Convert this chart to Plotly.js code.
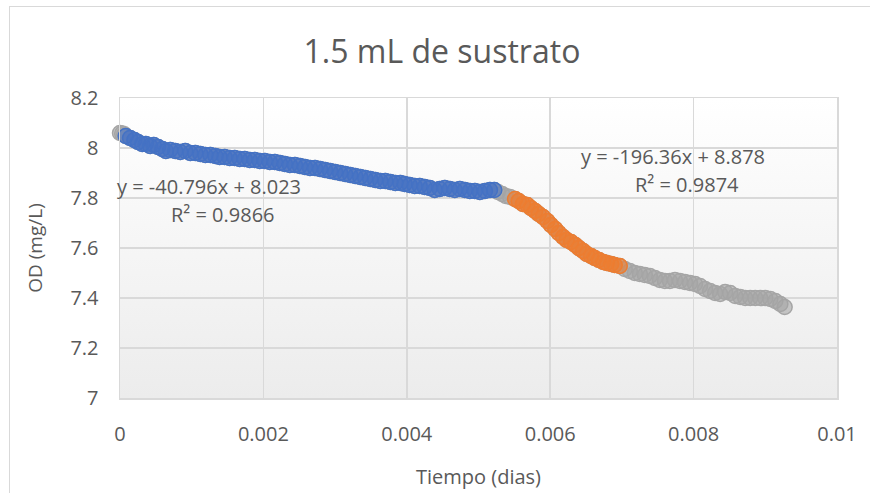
<!DOCTYPE html>
<html>
<head>
<meta charset="utf-8">
<script src="https://cdn.plot.ly/plotly-3.0.1.min.js"></script>
<style>
  html, body { margin: 0; padding: 0; overflow: hidden; background: #ffffff; }
  #chart { position: absolute; left: 0; top: 0; width: 870px; height: 493px; }
  #frame { position: absolute; left: 9px; top: 6px; width: 900px; height: 520px;
           border: 1px solid #d9d9d9; pointer-events: none; box-sizing: border-box; }
</style>
</head>
<body>
<div id="chart"></div>
<div id="frame"></div>
<script>
// ---- Data (tiempo en días, OD en mg/L) ----
const startX = [0.00000, 0.00003, 0.00006];
const startY = [8.060, 8.058, 8.055];

const blueX = [0.00008, 0.00014, 0.00020, 0.00025, 0.00031, 0.00036, 0.00042, 0.00047, 0.00053, 0.00059,
  0.00064, 0.00070, 0.00077, 0.00084, 0.00091, 0.00098, 0.00105, 0.00112, 0.00119, 0.00126,
  0.00133, 0.00139, 0.00146, 0.00153, 0.00160, 0.00167, 0.00174, 0.00181, 0.00188, 0.00195,
  0.00202, 0.00209, 0.00216, 0.00223, 0.00230, 0.00237, 0.00244, 0.00251, 0.00258, 0.00265,
  0.00272, 0.00279, 0.00286, 0.00293, 0.00300, 0.00307, 0.00314, 0.00321, 0.00328, 0.00335,
  0.00342, 0.00349, 0.00356, 0.00363, 0.00370, 0.00377, 0.00384, 0.00391, 0.00397, 0.00404,
  0.00411, 0.00418, 0.00425, 0.00432, 0.00439, 0.00446, 0.00453, 0.00460, 0.00467, 0.00474,
  0.00481, 0.00488, 0.00495, 0.00502, 0.00509, 0.00516, 0.00522];
const blueY = [8.048, 8.040, 8.032, 8.024, 8.016, 8.016, 8.008, 8.012, 8.004, 7.996,
  7.988, 7.992, 7.988, 7.984, 7.988, 7.980, 7.980, 7.976, 7.972, 7.972,
  7.968, 7.964, 7.964, 7.960, 7.960, 7.956, 7.956, 7.952, 7.952, 7.948,
  7.948, 7.944, 7.944, 7.940, 7.936, 7.932, 7.932, 7.928, 7.924, 7.920,
  7.920, 7.916, 7.912, 7.908, 7.904, 7.900, 7.896, 7.892, 7.888, 7.884,
  7.880, 7.876, 7.872, 7.868, 7.868, 7.864, 7.860, 7.860, 7.856, 7.852,
  7.848, 7.848, 7.844, 7.840, 7.832, 7.836, 7.840, 7.836, 7.832, 7.836,
  7.832, 7.828, 7.828, 7.824, 7.828, 7.832, 7.832];

const midX = [0.00527, 0.00533, 0.00538, 0.00544];
const midY = [7.824, 7.816, 7.808, 7.804];

const orangeX = [0.00551, 0.00556, 0.00562, 0.00568, 0.00573, 0.00579, 0.00584, 0.00590, 0.00596, 0.00601,
  0.00607, 0.00612, 0.00618, 0.00623, 0.00629, 0.00635, 0.00640, 0.00646, 0.00651, 0.00657,
  0.00662, 0.00668, 0.00674, 0.00679, 0.00685, 0.00690, 0.00697];
const orangeY = [7.796, 7.788, 7.776, 7.772, 7.760, 7.748, 7.736, 7.724, 7.708, 7.692,
  7.676, 7.660, 7.644, 7.632, 7.624, 7.612, 7.600, 7.588, 7.576, 7.568,
  7.560, 7.552, 7.544, 7.540, 7.536, 7.532, 7.528];

const endX = [0.00704, 0.00711, 0.00718, 0.00725, 0.00732, 0.00739, 0.00746, 0.00753, 0.00760, 0.00767,
  0.00774, 0.00781, 0.00788, 0.00795, 0.00802, 0.00809, 0.00816, 0.00823, 0.00830, 0.00837,
  0.00844, 0.00851, 0.00858, 0.00865, 0.00872, 0.00879, 0.00886, 0.00893, 0.00900, 0.00907,
  0.00914, 0.00921, 0.00927];
const endY = [7.516, 7.508, 7.500, 7.496, 7.492, 7.488, 7.480, 7.472, 7.468, 7.468,
  7.472, 7.468, 7.464, 7.460, 7.456, 7.448, 7.436, 7.428, 7.420, 7.416,
  7.424, 7.420, 7.408, 7.404, 7.400, 7.400, 7.400, 7.400, 7.400, 7.396,
  7.388, 7.376, 7.364];

const xTickVals = [0, 0.002, 0.004, 0.006, 0.008, 0.01];
const xTickText = ["0", "0.002", "0.004", "0.006", "0.008", "0.01"];
const yTickVals = [7, 7.2, 7.4, 7.6, 7.8, 8, 8.2];
const yTickText = ["7", "7.2", "7.4", "7.6", "7.8", "8", "8.2"];

const eq1 = "y = -40.796x + 8.023";
const r1 = "R² = 0.9866";
const eq2 = "y = -196.36x + 8.878";
const r2 = "R² = 0.9874";

// ---- Build ----
const allX = startX.concat(blueX, midX, orangeX, endX);
const allY = startY.concat(blueY, midY, orangeY, endY);

function mk(rgb) {
  return {
    size: 15,
    color: 'rgba(' + rgb + ',0.6)',
    line: { color: 'rgb(' + rgb + ')', width: 1.5 }
  };
}

const traces = [
  { x: allX, y: allY, type: 'scatter', mode: 'markers', marker: mk('165,165,165'), hoverinfo: 'skip', cliponaxis: false },
  { x: blueX, y: blueY, type: 'scatter', mode: 'markers', marker: mk('68,114,196'), hoverinfo: 'skip', cliponaxis: false },
  { x: orangeX, y: orangeY, type: 'scatter', mode: 'markers', marker: mk('237,125,49'), hoverinfo: 'skip', cliponaxis: false }
];

const gradSvg = "<svg xmlns='http://www.w3.org/2000/svg' width='10' height='100' preserveAspectRatio='none'>" +
  "<defs><linearGradient id='g' x1='0' y1='0' x2='0' y2='1'><stop offset='0' stop-color='#ffffff'/>" +
  "<stop offset='1' stop-color='#ececec'/></linearGradient></defs><rect width='10' height='100' fill='url(#g)'/></svg>";
const gradUri = 'data:image/svg+xml;charset=utf-8,' + encodeURIComponent(gradSvg);

const txt = '#595959';
const fontFam = 'Open Sans, Noto Sans, sans-serif';

const layout = {
  width: 870, height: 493,
  margin: { l: 120, r: 33, t: 98, b: 95 },
  paper_bgcolor: 'rgba(0,0,0,0)',
  plot_bgcolor: 'rgba(0,0,0,0)',
  showlegend: false,
  font: { family: fontFam, color: txt },
  title: {
    text: '1.5 mL de sustrato',
    font: { family: fontFam, size: 32, color: txt },
    xref: 'container', x: 0.508, xanchor: 'center',
    yref: 'container', y: 0.895, yanchor: 'middle'
  },
  xaxis: {
    range: [0, 0.01], tickvals: xTickVals, ticktext: xTickText,
    showgrid: true, gridcolor: '#d9d9d9', gridwidth: 1.5,
    zeroline: false, showline: true, linecolor: '#d9d9d9', linewidth: 1.5, mirror: true,
    ticks: 'outside', ticklen: 17, tickcolor: 'rgba(0,0,0,0)',
    tickfont: { family: fontFam, size: 20, color: txt },
    title: { text: 'Tiempo (dias)', font: { family: fontFam, size: 20, color: txt }, standoff: 24 }
  },
  yaxis: {
    range: [7, 8.2], tickvals: yTickVals, ticktext: yTickText,
    showgrid: true, gridcolor: '#d9d9d9', gridwidth: 1.5,
    zeroline: false, showline: true, linecolor: '#d9d9d9', linewidth: 1.5, mirror: true,
    ticks: 'outside', ticklen: 16, tickcolor: 'rgba(0,0,0,0)',
    tickfont: { family: fontFam, size: 20, color: txt },
    title: { text: 'OD (mg/L)', font: { family: fontFam, size: 19, color: txt }, standoff: 22 }
  },
  images: [{
    source: gradUri, xref: 'paper', yref: 'paper', x: 0, y: 1, sizex: 1, sizey: 1,
    xanchor: 'left', yanchor: 'top', sizing: 'stretch', layer: 'below'
  }],
  annotations: [
    { text: eq1, x: 0.00124, y: 7.848, xref: 'x', yref: 'y', showarrow: false, font: { family: fontFam, size: 20, color: txt } },
    { text: r1, x: 0.00144, y: 7.736, xref: 'x', yref: 'y', showarrow: false, font: { family: fontFam, size: 20, color: txt } },
    { text: eq2, x: 0.00771, y: 7.968, xref: 'x', yref: 'y', showarrow: false, font: { family: fontFam, size: 20, color: txt } },
    { text: r2, x: 0.00791, y: 7.856, xref: 'x', yref: 'y', showarrow: false, font: { family: fontFam, size: 20, color: txt } }
  ]
};

Plotly.newPlot('chart', traces, layout, { staticPlot: true, displayModeBar: false });
</script>
</body>
</html>
